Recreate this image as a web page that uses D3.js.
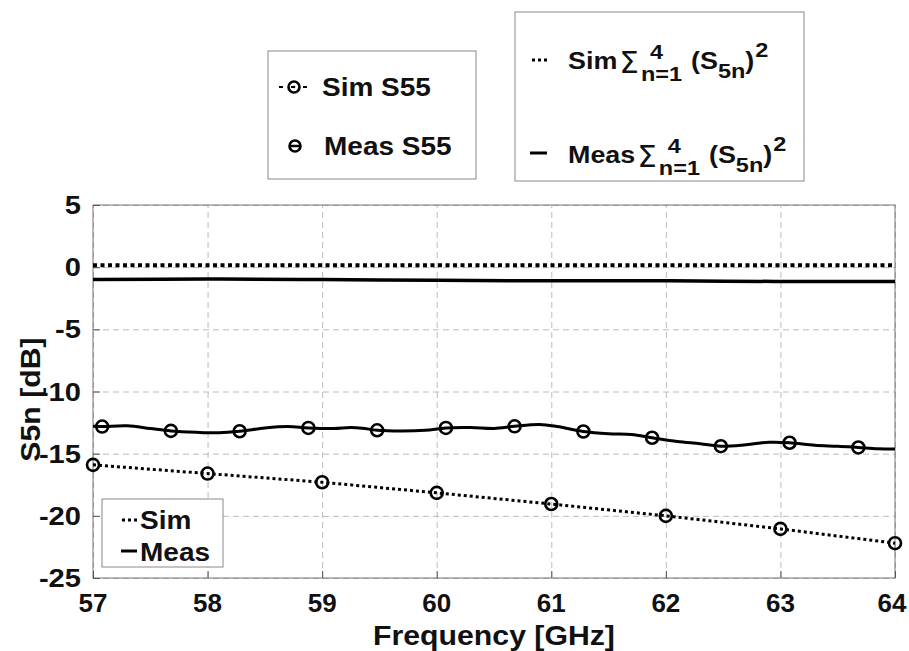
<!DOCTYPE html>
<html>
<head>
<meta charset="utf-8">
<script src="https://cdn.jsdelivr.net/npm/d3@7"></script>
<style>
  body { margin: 0; background: #fff; }
  svg { display: block; }
  text { font-family: "Liberation Sans", Arial, sans-serif; font-weight: bold; fill: #111; }
</style>
</head>
<body>
<svg width="909" height="651"></svg>
<script>
// ---- data ----
const xTicks = [57, 58, 59, 60, 61, 62, 63, 64];
const yTicks = [-25, -20, -15, -10, -5, 0, 5];

// sum of |S5n|^2 (top two lines)
const sumFreq = [57, 58, 59, 60, 61, 62, 63, 64];
const simSum = [0.15, 0.15, 0.15, 0.15, 0.15, 0.15, 0.15, 0.15];
const measSum = [-1.0, -0.95, -1.0, -1.05, -1.1, -1.1, -1.15, -1.15];

// Sim S55 (dotted, markers every GHz)
const simFreq = [57, 58, 59, 60, 61, 62, 63, 64];
const simS55 = [-15.9, -16.6, -17.3, -18.15, -19.05, -20.0, -21.05, -22.2];

// Meas S55 (solid, wavy)
const measFreq = [57.0, 57.08, 57.3, 57.5, 57.68, 57.9, 58.1, 58.28, 58.5, 58.7, 58.88, 59.1, 59.25, 59.35,
  59.48, 59.7, 59.9, 60.08, 60.3, 60.5, 60.68, 60.9, 61.05, 61.28, 61.5, 61.7, 61.88, 62.1, 62.3, 62.48,
  62.7, 62.9, 63.08, 63.3, 63.5, 63.68, 63.85, 64.0];
const measS55 = [-12.8, -12.82, -12.76, -12.98, -13.17, -13.28, -13.32, -13.2, -12.94, -12.82, -12.93, -12.98, -12.9, -12.95,
  -13.12, -13.18, -13.12, -12.93, -12.9, -12.98, -12.8, -12.66, -12.82, -13.22, -13.4, -13.46, -13.72, -14.02, -14.2, -14.4,
  -14.28, -14.08, -14.12, -14.33, -14.4, -14.5, -14.6, -14.62];
const measMarkFreq = [57.08, 57.68, 58.28, 58.88, 59.48, 60.08, 60.68, 61.28, 61.88, 62.48, 63.08, 63.68];
const measMark = [-12.82, -13.17, -13.2, -12.93, -13.12, -12.93, -12.8, -13.22, -13.72, -14.4, -14.12, -14.5];

const SX = 1.12; // the picture's lettering is a bit wide

const svg = d3.select('svg');
const margin = { top: 205, right: 14, bottom: 73, left: 93 };
const width = 909 - margin.left - margin.right;
const height = 651 - margin.top - margin.bottom;

const x = d3.scaleLinear().domain([57, 64]).range([0, width]);
const y = d3.scaleLinear().domain([-25, 5]).range([height, 0]);

const g = svg.append('g').attr('transform', `translate(${margin.left},${margin.top})`);

// stretched text helper
function label(parent, tx, ty, str, size, anchor, sx) {
  return parent.append('text')
    .attr('transform', `translate(${tx},${ty}) scale(${sx || SX},1)`)
    .attr('font-size', size)
    .attr('text-anchor', anchor || 'start')
    .text(str);
}

// grid
g.append('g')
  .attr('transform', `translate(0,${height})`)
  .call(d3.axisBottom(x).tickValues(xTicks).tickSize(-height).tickFormat(''))
  .call(a => a.select('.domain').remove())
  .call(a => a.selectAll('line').attr('stroke', '#bbb').attr('stroke-dasharray', '6,4'));
g.append('g')
  .call(d3.axisLeft(y).tickValues(yTicks).tickSize(-width).tickFormat(''))
  .call(a => a.select('.domain').remove())
  .call(a => a.selectAll('line').attr('stroke', '#bbb').attr('stroke-dasharray', '6,4'));

// frame
g.append('rect').attr('width', width).attr('height', height)
  .attr('fill', 'none').attr('stroke', '#777').attr('stroke-width', 1);

// inward ticks
const xAx = g.append('g').attr('transform', `translate(0,${height})`)
  .call(d3.axisBottom(x).tickValues(xTicks).tickSize(-7).tickFormat(''));
xAx.select('.domain').remove();
xAx.selectAll('line').attr('stroke', '#555');
const yAx = g.append('g').call(d3.axisLeft(y).tickValues(yTicks).tickSize(-7).tickFormat(''));
yAx.select('.domain').remove();
yAx.selectAll('line').attr('stroke', '#555');

// tick labels (plain hyphen minus, as in the picture)
xTicks.forEach(v => label(g, x(v) - (v === 64 ? 3 : 0), height + 34, String(v), 25, 'middle', 1.04));
yTicks.forEach(v => label(g, -12, y(v) + 9, String(v), 26, 'end'));

// axis titles
label(svg, margin.left + width / 2, 645, 'Frequency [GHz]', 27, 'middle');
svg.append('text')
  .attr('transform', `translate(40,${margin.top + height / 2 + 8}) rotate(-90) scale(${SX},1)`)
  .attr('font-size', 27).attr('text-anchor', 'middle').text('S5n [dB]');

// lines
const line = d3.line().x(d => x(d[0])).y(d => y(d[1]));
const smooth = d3.line().x(d => x(d[0])).y(d => y(d[1])).curve(d3.curveCatmullRom.alpha(0.5));

g.append('path').datum(d3.zip(sumFreq, simSum)).attr('d', line)
  .attr('fill', 'none').attr('stroke', '#000').attr('stroke-width', 4).attr('stroke-dasharray', '4,3.5');
g.append('path').datum(d3.zip(sumFreq, measSum)).attr('d', smooth)
  .attr('fill', 'none').attr('stroke', '#000').attr('stroke-width', 3.5);

g.append('path').datum(d3.zip(simFreq, simS55)).attr('d', line)
  .attr('fill', 'none').attr('stroke', '#000').attr('stroke-width', 3).attr('stroke-dasharray', '3,3');
g.append('path').datum(d3.zip(measFreq, measS55)).attr('d', smooth)
  .attr('fill', 'none').attr('stroke', '#000').attr('stroke-width', 3);

g.selectAll('.simMark').data(d3.zip(simFreq, simS55)).join('circle')
  .attr('cx', d => x(d[0])).attr('cy', d => y(d[1])).attr('r', 6)
  .attr('fill', 'none').attr('stroke', '#000').attr('stroke-width', 2.6);
g.selectAll('.measMark').data(d3.zip(measMarkFreq, measMark)).join('circle')
  .attr('cx', d => x(d[0])).attr('cy', d => y(d[1])).attr('r', 6)
  .attr('fill', 'none').attr('stroke', '#000').attr('stroke-width', 2.6);

// ---- legend: in-axes Sim / Meas ----
const lg3 = svg.append('g');
lg3.append('rect').attr('x', 102).attr('y', 499).attr('width', 121).attr('height', 68)
  .attr('fill', '#fff').attr('stroke', '#888');
lg3.append('line').attr('x1', 122).attr('x2', 137).attr('y1', 520).attr('y2', 520)
  .attr('stroke', '#000').attr('stroke-width', 3).attr('stroke-dasharray', '3,3');
label(lg3, 140, 529, 'Sim', 25);
lg3.append('line').attr('x1', 121).attr('x2', 137).attr('y1', 551).attr('y2', 551)
  .attr('stroke', '#000').attr('stroke-width', 3);
label(lg3, 140, 561, 'Meas', 25);

// ---- legend: S55 markers ----
const lg1 = svg.append('g');
lg1.append('rect').attr('x', 268).attr('y', 51).attr('width', 208).attr('height', 128)
  .attr('fill', '#fff').attr('stroke', '#888');
lg1.append('line').attr('x1', 279).attr('x2', 309).attr('y1', 87).attr('y2', 87)
  .attr('stroke', '#000').attr('stroke-width', 2).attr('stroke-dasharray', '4,8');
lg1.append('circle').attr('cx', 294).attr('cy', 87).attr('r', 5.5)
  .attr('fill', 'none').attr('stroke', '#000').attr('stroke-width', 2.6);
lg1.append('circle').attr('cx', 294).attr('cy', 87).attr('r', 1.3).attr('fill', '#000');
label(lg1, 322, 96, 'Sim S55', 25);
lg1.append('circle').attr('cx', 295).attr('cy', 146).attr('r', 5.5)
  .attr('fill', 'none').attr('stroke', '#000').attr('stroke-width', 2.6);
lg1.append('line').attr('x1', 289).attr('x2', 301).attr('y1', 146).attr('y2', 146)
  .attr('stroke', '#000').attr('stroke-width', 2.5);
label(lg1, 324, 155, 'Meas S55', 25);

// ---- legend: sums ----
const lg2 = svg.append('g');
lg2.append('rect').attr('x', 515).attr('y', 12).attr('width', 289).attr('height', 169)
  .attr('fill', '#fff').attr('stroke', '#888');

function formula(parent, x0, y0, name) {
  let t = label(parent, x0, y0, name, 24);
  let xe = x0 + t.node().getComputedTextLength() * SX + 2;
  t = parent.append('text').attr('x', xe).attr('y', y0 + 4)
    .style('font-family', '"DejaVu Sans", sans-serif').style('font-weight', 'normal')
    .attr('font-size', 31).text('\u03A3');
  xe += t.node().getComputedTextLength() + 2;
  const sup = label(parent, xe + 9, y0 - 10, '4', 21);
  const sub = label(parent, xe, y0 + 12, 'n=1', 21);
  xe = Math.max(xe + 9 + sup.node().getComputedTextLength() * SX,
                xe + sub.node().getComputedTextLength() * SX) + 9;
  t = label(parent, xe, y0, '(S', 24);
  xe += t.node().getComputedTextLength() * SX;
  t = label(parent, xe, y0 + 9, '5n', 21);
  xe += t.node().getComputedTextLength() * SX;
  t = label(parent, xe, y0, ')', 24);
  xe += t.node().getComputedTextLength() * SX + 1;
  label(parent, xe, y0 - 12, '2', 21);
}
lg2.append('line').attr('x1', 532).attr('x2', 547).attr('y1', 60).attr('y2', 60)
  .attr('stroke', '#000').attr('stroke-width', 3).attr('stroke-dasharray', '3,3');
formula(lg2, 568, 69, 'Sim');
lg2.append('line').attr('x1', 530).attr('x2', 547).attr('y1', 153).attr('y2', 153)
  .attr('stroke', '#000').attr('stroke-width', 3);
formula(lg2, 568, 163, 'Meas');
</script>
</body>
</html>
